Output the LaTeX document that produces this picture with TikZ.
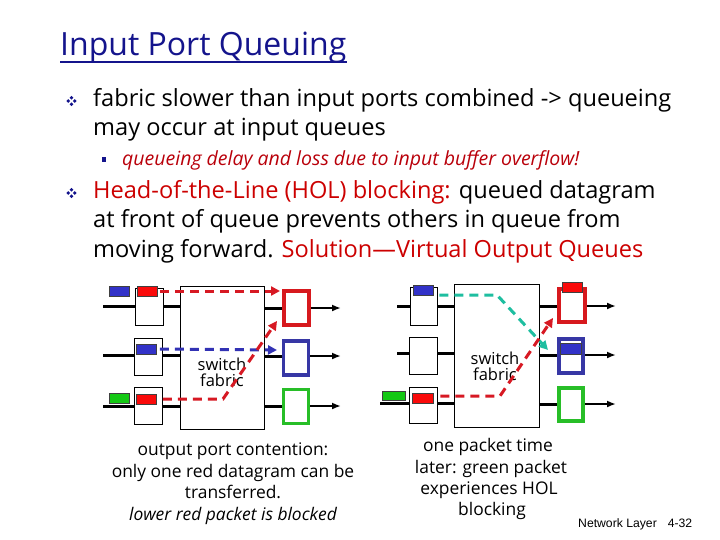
\documentclass[tikz,border=0pt]{standalone}
\usepackage{fontspec}
\setmainfont{Open Sans}
\newfontfamily\arialf{Liberation Sans}
\usetikzlibrary{arrows.meta}
\definecolor{navy}{RGB}{20,20,140}
\definecolor{txtred}{RGB}{204,0,0}
\definecolor{subred}{RGB}{185,0,10}
\definecolor{pred}{RGB}{250,10,10}
\definecolor{pblue}{RGB}{50,50,200}
\definecolor{pgreen}{RGB}{20,200,20}
\definecolor{ored}{RGB}{215,25,30}
\definecolor{oblue}{RGB}{55,55,165}
\definecolor{ogreen}{RGB}{40,190,40}
\definecolor{dred}{RGB}{215,25,35}
\definecolor{dblue}{RGB}{50,50,180}
\definecolor{dteal}{RGB}{30,190,160}
\tikzset{
  fabricbox/.style={draw=black,line width=0.9pt,fill=white,rectangle,inner sep=0pt,minimum width=84pt,minimum height=143pt},
  inbox/.style={draw=black,line width=0.9pt,fill=white,rectangle,inner sep=0pt,minimum width=28pt,minimum height=37pt},
  outbox/.style={line width=3.6pt,fill=white,rectangle,inner sep=0pt,minimum width=25pt,minimum height=34pt},
  pkt/.style={draw=black!75,line width=0.6pt,rectangle,inner sep=0pt,minimum width=20pt,minimum height=10pt},
  inline/.style={line width=3pt},
  outline/.style={line width=2pt,-{Latex[length=9pt,width=7pt]}},
  dashline/.style={line width=3pt,dash pattern=on 9pt off 6pt},
  dtip/.style={-{Triangle[length=9pt,width=9pt]}},
  bodyfont/.style={font=\fontsize{23.6}{28}\selectfont},
  subfont/.style={font=\fontsize{19.5}{23}\selectfont\itshape},
  capfont/.style={font=\fontsize{17.4}{21}\selectfont},
  labfont/.style={font=\fontsize{16.5}{19}\selectfont},
}
\begin{document}
\begin{tikzpicture}[x=1pt,y=-1pt]
\useasboundingbox (0,0) rectangle (720,540);
% ---------- title
\node[anchor=base west,inner sep=0pt,text=navy,font=\fontsize{32}{36}\selectfont] (title) at (60,56) {Input Port Queuing};
\draw[navy,line width=1.5pt] ([yshift=-6pt]title.base west) -- ([yshift=-6pt]title.base east);
% ---------- bullets
\foreach \cy [count=\i] in {101,193}{
  \foreach \dx/\dy in {0/-3.3,0/3.3,-3.3/0,3.3/0}{
    \fill[navy] (71.5+\dx-1.9,\cy+\dy) -- (71.5+\dx,\cy+\dy-1.9) -- (71.5+\dx+1.9,\cy+\dy) -- (71.5+\dx,\cy+\dy+1.9) -- cycle;
  }
}
\fill[navy] (101.5,157.5) rectangle (106,162);
\node[anchor=base west,inner sep=0pt,bodyfont] (t1) at (93,107) {fabric slower than input ports combined -> queueing};
\node[anchor=base west,inner sep=0pt,bodyfont] (t2) at (93,136) {may occur at input queues};
\node[anchor=base west,inner sep=0pt,subfont,text=subred] (t3) at (122,166) {queueing delay and loss due to input buffer overflow!};
\node[anchor=base west,inner sep=0pt,bodyfont] (t4) at (93,199) {\textcolor{txtred}{Head-of-the-Line (HOL) blocking:} queued datagram};
\node[anchor=base west,inner sep=0pt,bodyfont] (t5) at (93,228) {at front of queue prevents others in queue from};
\node[anchor=base west,inner sep=0pt,bodyfont] (t6) at (93,257) {moving forward. \textcolor{txtred}{Solution—Virtual Output Queues}};
% ================= LEFT DIAGRAM
\node[fabricbox] (fabL) at (222,357.5) {};
\node[labfont,align=center,inner sep=0pt] (labL) at (222,372) {switch\\[-3pt]fabric};
\node[inbox] (inL1) at (149,306.5) {};
\node[inbox] (inL2) at (148,356.5) {};
\node[inbox] (inL3) at (148,405.5) {};
\coordinate (sL1) at (103,306);
\coordinate (sL2) at (103,355);
\coordinate (sL3) at (103,406);
\foreach \k in {1,2,3}{
  \draw[inline] (sL\k) -- (sL\k -| inL\k.west);
  \draw[inline] (inL\k.east |- sL\k) -- (sL\k -| fabL.west);
}
\node[outbox,draw=ored] (oRL) at (296.5,308) {};
\node[outbox,draw=oblue] (oBL) at (296,358) {};
\node[outbox,draw=ogreen] (oGL) at (296,406.5) {};
\coordinate (eL1) at (341,308);
\coordinate (eL2) at (341,356);
\coordinate (eL3) at (341,406);
\draw[inline] (fabL.east |- eL1) -- (oRL.west |- eL1);
\draw[inline] (fabL.east |- eL2) -- (oBL.west |- eL2);
\draw[inline] (fabL.east |- eL3) -- (oGL.west |- eL3);
\draw[outline] (oRL.east |- eL1) -- (eL1);
\draw[outline] (oBL.east |- eL2) -- (eL2);
\draw[outline] (oGL.east |- eL3) -- (eL3);
\node[pkt,fill=pblue] (pBL1) at (119,291) {};
\node[pkt,fill=pred] (pRL1) at (147,291) {};
\node[pkt,fill=pblue] (pBL2) at (146.5,349) {};
\node[pkt,fill=pred] (pRL3) at (146.5,399) {};
\node[pkt,fill=pgreen] (pGL3) at (119.5,398) {};
\coordinate (aL1) at (280,291);
\coordinate (aL2) at (277,350);
\coordinate (kL3) at (223,399);
\coordinate (aL3) at (277,321);
\draw[dashline,dred,dtip] ([xshift=3pt]pRL1.east) -- (aL1);
\draw[dashline,dblue,dtip] ([xshift=3pt]pBL2.east) -- (aL2);
\draw[dashline,dred,dtip] ([xshift=6pt]pRL3.east) -- (kL3) -- (aL3);
% ================= RIGHT DIAGRAM
\node[fabricbox,minimum width=85pt] (fabR) at (496.5,355.5) {};
\node[labfont,align=center,inner sep=0pt] (labR) at (495,366) {switch\\[-3pt]fabric};
\node[inbox,minimum width=27pt,minimum height=38pt] (inR1) at (423.5,306) {};
\node[inbox] (inR2) at (423,355.5) {};
\node[inbox,minimum height=36pt] (inR3) at (423,405) {};
\coordinate (sR1) at (397,306);
\coordinate (sR2) at (397,353);
\coordinate (sR3) at (380,403);
\foreach \k in {1,2,3}{
  \draw[inline] (sR\k) -- (sR\k -| inR\k.west);
  \draw[inline] (inR\k.east |- sR\k) -- (sR\k -| fabR.west);
}
\node[outbox,draw=ored,minimum width=26pt,minimum height=33pt] (oRR) at (572,305.5) {};
\node[outbox,draw=oblue,minimum width=24pt] (oBR) at (571,356) {};
\node[outbox,draw=ogreen,minimum width=24pt,minimum height=33pt] (oGR) at (571,404.5) {};
\coordinate (eR1) at (616,306);
\coordinate (eR2) at (616,355);
\coordinate (eR3) at (616,404);
\draw[inline] (fabR.east |- eR1) -- (oRR.west |- eR1);
\draw[inline] (fabR.east |- eR2) -- (oBR.west |- eR2);
\draw[inline] (fabR.east |- eR3) -- (oGR.west |- eR3);
\draw[outline] (oRR.east |- eR1) -- (eR1);
\draw[outline] (oBR.east |- eR2) -- (eR2);
\draw[outline] (oGR.east |- eR3) -- (eR3);
\node[pkt,fill=pblue] (pBR1) at (423,290) {};
\node[pkt,fill=pred,minimum width=21pt] (pRR3) at (422.5,398) {};
\node[pkt,fill=pgreen,minimum width=23pt,minimum height=9pt] (pGR3) at (394,395.5) {};
\node[pkt,fill=pred] (pRRo) at (572,287) {};
\node[pkt,fill=pblue,minimum width=21pt,minimum height=11pt] (pBRo) at (570.5,348.5) {};
\coordinate (kR1) at (497,295);
\coordinate (aR1) at (548,350);
\coordinate (kR3) at (500,396);
\coordinate (aR3) at (553,318);
\draw[dashline,dteal,dtip] ([xshift=6pt]pBR1.east |- kR1) -- (kR1) -- (aR1);
\draw[dashline,dred,dtip] ([xshift=7pt]pRR3.east |- kR3) -- (kR3) -- (aR3);
% ---------- captions
\node[capfont,anchor=base,inner sep=0pt] (cL1) at (233,455) {output port contention:};
\node[capfont,anchor=base,inner sep=0pt] (cL2) at (233,477) {only one red datagram can be};
\node[capfont,anchor=base,inner sep=0pt] (cL3) at (233,498) {transferred.};
\node[capfont,anchor=base,inner sep=0pt,font=\fontsize{17.4}{21}\selectfont\itshape] (cL4) at (233,520) {lower red packet is blocked};
\node[capfont,anchor=base,inner sep=0pt] (cR1) at (488,451) {one packet time};
\node[capfont,anchor=base,inner sep=0pt] (cR2) at (491,473) {later: green packet};
\node[capfont,anchor=base,inner sep=0pt] (cR3) at (489,494) {experiences HOL};
\node[capfont,anchor=base,inner sep=0pt] (cR4) at (492,515) {blocking};
\node[anchor=base west,inner sep=0pt,font=\arialf\fontsize{12.2}{14}\selectfont] (foot) at (578,527) {Network Layer\hspace{11pt}4-32};
\end{tikzpicture}
\end{document}
